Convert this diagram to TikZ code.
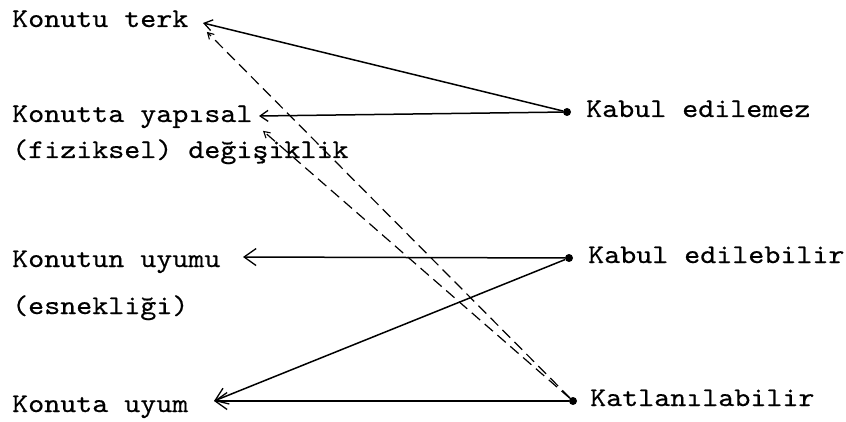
\documentclass[tikz,border=0pt]{standalone}
\usepackage{fontspec}
\usetikzlibrary{arrows.meta}
\newfontfamily\twfont{lmmono10-regular.otf}[FakeBold=0.5, FakeStretch=1.13]
\tikzset{
  lbl/.style={anchor=base west, inner sep=0pt, font=\twfont\fontsize{27}{30}\selectfont},
  dotnode/.style={circle, fill=black, inner sep=0pt, minimum size=8pt},
  solidline/.style={line width=1.5pt, -{Straight Barb[length=8pt,width=11pt,line width=1.3pt]}},
  bigline/.style={line width=1.5pt, -{Straight Barb[length=12pt,width=17pt,line width=1.3pt]}},
  dashline/.style={line width=1.2pt, dash pattern=on 11pt off 6pt, -{Straight Barb[length=6pt,width=7pt,line width=1.1pt,sep]}},
}
\begin{document}
\begin{tikzpicture}[x=1pt,y=-1pt]
\useasboundingbox (0,0) rectangle (846,422);
% left texts
\node[lbl] (terk) at (12,27) {Konutu terk};
\node[lbl] (yap) at (12,122) {Konutta yapısal};
\node[lbl] (fiz) at (12,158) {(fiziksel) değişiklik};
\node[lbl] (uyumu) at (12,267) {Konutun uyumu};
\node[lbl] (esn) at (12,314) {(esnekliği)};
\node[lbl] (uyum) at (12,412) {Konuta uyum};
% right texts
\node[lbl] (edm) at (586,117) {Kabul edilemez};
\node[lbl] (edb) at (588,263) {Kabul edilebilir};
\node[lbl] (kat) at (590,406) {Katlanılabilir};
% dots
\node[dotnode] (dA) at (567,112) {};
\node[dotnode] (dB) at (569,258) {};
\node[dotnode] (dC) at (573,401) {};
% arrow tips
\coordinate (tTerk) at (203,23);
\coordinate (tTerkD) at (206,31);
\coordinate (tYap) at (259,116);
\coordinate (tYapD) at (262,130);
\coordinate (tUyumu) at (243,257);
\coordinate (tUyum) at (214,401);
% connectors
\draw[solidline] (dA) -- (tTerk);
\draw[solidline] (dA) -- (tYap);
\draw[bigline] (dB) -- (tUyumu);
\draw[bigline] (dB) -- (tUyum);
\draw[bigline] (dC) -- (tUyum);
\draw[dashline] (dC) -- (tTerkD);
\draw[dashline] (dC) -- (tYapD);
\end{tikzpicture}
\end{document}
